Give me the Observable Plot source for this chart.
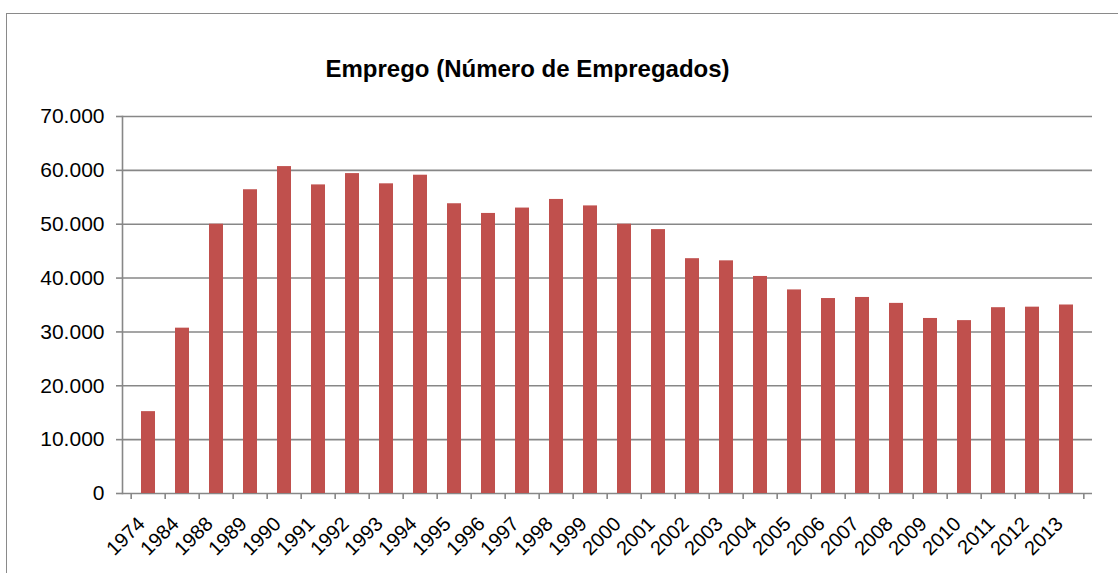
<!DOCTYPE html>
<html>
<head>
<meta charset="utf-8">
<script src="https://cdn.jsdelivr.net/npm/d3@7"></script>
<script src="https://cdn.jsdelivr.net/npm/@observablehq/plot@0.6"></script>
<style>
  html, body { margin: 0; padding: 0; background: #fff; }
  #wrap { position: relative; width: 1118px; height: 573px; overflow: hidden; font-family: "Liberation Sans", Arial, sans-serif; }
  #border { position: absolute; left: 6px; top: 13px; width: 1200px; height: 700px; border-left: 1.5px solid #8a8a8a; border-top: 1.5px solid #8a8a8a; }
  #chart { position: absolute; left: 0; top: 0; }
</style>
</head>
<body>
<div id="wrap"><div id="border"></div><div id="chart"></div></div>
<script>
const title = "Emprego (Número de Empregados)";
const years = ["1974","1984","1988","1989","1990","1991","1992","1993","1994","1995","1996","1997","1998","1999","2000","2001","2002","2003","2004","2005","2006","2007","2008","2009","2010","2011","2012","2013"];
const values = [15200,30700,50000,56400,60700,57300,59400,57500,59100,53800,52000,53000,54600,53400,50000,49000,43600,43200,40300,37800,36200,36400,35300,32500,32100,34500,34600,35000];
const yTicks = [0,10000,20000,30000,40000,50000,60000,70000];

const data = years.map((y, i) => ({year: y, value: values[i]}));
const fmt = d3.formatLocale({thousands: ".", grouping: [3], decimal: ",", currency: ["", ""]}).format(",");

const W = 1118, H = 573;
const mL = 122, mR = 26, mT = 116, mB = 80;
const step = (W - mL - mR) / years.length;
const grid = "#878787";

const chart = Plot.plot({
  width: W, height: H,
  marginLeft: mL, marginRight: mR, marginTop: mT, marginBottom: mB,
  style: {fontFamily: "'Liberation Sans', Arial, sans-serif", color: "#000", background: "transparent"},
  x: {domain: years, paddingInner: 0.6, paddingOuter: 0.3, label: null},
  y: {domain: [0, 70000], label: null},
  marks: [
    Plot.ruleY(yTicks, {stroke: grid, strokeWidth: 1.6}),
    Plot.frame({anchor: "left", stroke: grid, strokeWidth: 1.6}),
    Plot.barY(data, {x: "year", y: "value", fill: "#C0504D"}),
    Plot.axisY({ticks: yTicks, tickFormat: fmt, tickSize: 6, tickPadding: 12, fontSize: 21, stroke: grid, strokeWidth: 1.6, label: null}),
    Plot.axisX({ticks: years, tickSize: 6, text: null, dx: -step / 2, stroke: grid, strokeWidth: 1.6, label: null}),
    Plot.axisX({ticks: [years[years.length - 1]], tickSize: 6, text: null, dx: step / 2, stroke: grid, strokeWidth: 1.6, label: null}),
    Plot.axisX({ticks: years, tickSize: 0, tickPadding: 27, tickRotate: -45, fontSize: 20, dx: -7, label: null}),
    Plot.text([title], {frameAnchor: "top-left", textAnchor: "start", lineAnchor: "bottom", dx: 203, dy: -40, fontSize: 24, fontWeight: "bold", fill: "#000"})
  ]
});
document.getElementById("chart").appendChild(chart);
</script>
</body>
</html>
